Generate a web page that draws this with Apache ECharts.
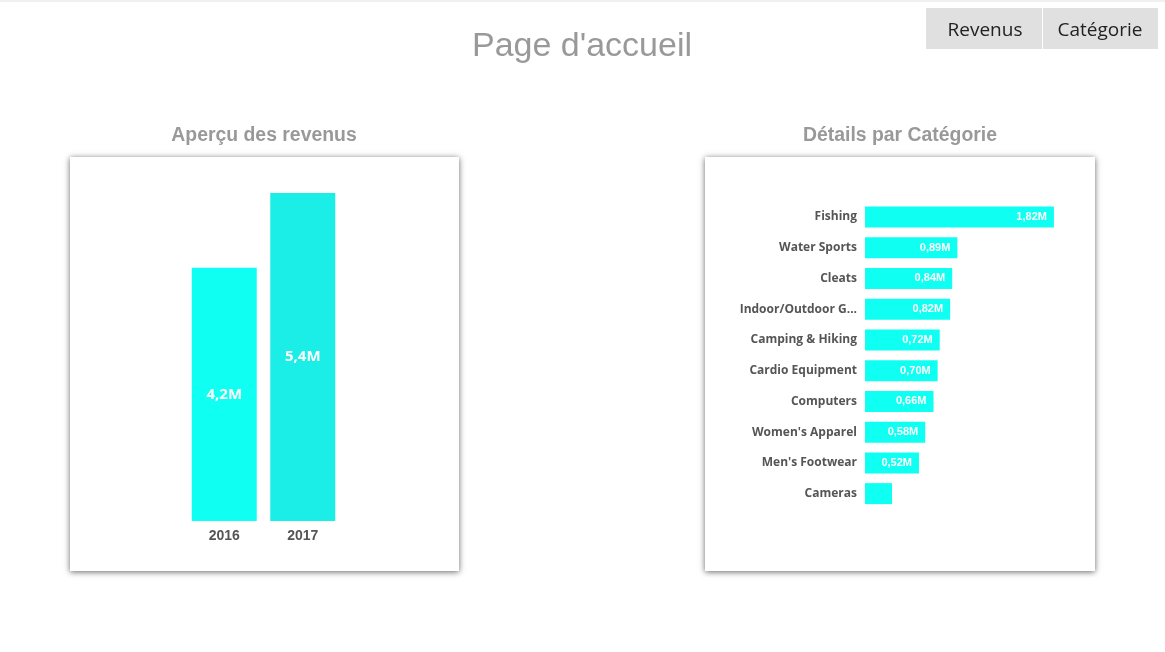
<!DOCTYPE html>
<html>
<head>
<meta charset="utf-8">
<script src="https://cdn.jsdelivr.net/npm/echarts@6/dist/echarts.min.js"></script>
<style>
html,body{margin:0;padding:0;background:#fff;}
#c{width:1165px;height:652px;}
</style>
</head>
<body>
<div id="c"></div>
<script>
// Revenue overview
var years = ['2016', '2017'];
var revenueM = [4.17, 5.4];
var yearColors = ['#0ffff2', '#1beee6'];

// Category details (values in millions)
var categories = ['Fishing', 'Water Sports', 'Cleats', 'Indoor/Outdoor Games', 'Camping & Hiking',
  'Cardio Equipment', 'Computers', "Women's Apparel", "Men's Footwear", 'Cameras'];
var categoryM = [1.82, 0.89, 0.84, 0.82, 0.72, 0.70, 0.66, 0.58, 0.52, 0.26];

var buttons = ['Revenus', 'Catégorie'];
var pageTitle = "Page d'accueil";
var leftTitle = 'Aperçu des revenus';
var rightTitle = 'Détails par Catégorie';

function fmt(v, d) { return v.toFixed(d).replace('.', ',') + 'M'; }

var chart = echarts.init(document.getElementById('c'), null, {renderer: 'canvas'});

var graphics = [
  {type: 'rect', z: -10, shape: {x: 0, y: 0, width: 1165, height: 2}, style: {fill: '#f0f0f0'}},
  // panels
  {type: 'rect', z: -5, shape: {x: 70, y: 157, width: 389, height: 414},
    style: {fill: '#fff', shadowBlur: 6, shadowColor: 'rgba(0,0,0,0.6)', shadowOffsetX: 0, shadowOffsetY: 1}},
  {type: 'rect', z: -5, shape: {x: 705, y: 157, width: 390, height: 414},
    style: {fill: '#fff', shadowBlur: 6, shadowColor: 'rgba(0,0,0,0.6)', shadowOffsetX: 0, shadowOffsetY: 1}},
  // buttons
  {type: 'rect', shape: {x: 926, y: 8, width: 116, height: 41}, style: {fill: '#e0e0e0'}},
  {type: 'rect', shape: {x: 1043, y: 8, width: 115, height: 41}, style: {fill: '#e0e0e0'}},
  {type: 'text', x: 985, y: 31, style: {text: buttons[0], fill: '#222', font: '19px "Open Sans", "Noto Sans", sans-serif', align: 'center', verticalAlign: 'middle'}},
  {type: 'text', x: 1100, y: 31, style: {text: buttons[1], fill: '#222', font: '19px "Open Sans", "Noto Sans", sans-serif', align: 'center', verticalAlign: 'middle'}},
  // titles
  {type: 'text', x: 582, y: 47, style: {text: pageTitle, fill: '#999', font: '34px "Liberation Sans", Arial, sans-serif', align: 'center', verticalAlign: 'middle'}},
  {type: 'text', x: 264, y: 136, style: {text: leftTitle, fill: '#999', font: 'bold 19.4px "Liberation Sans", Arial, sans-serif', align: 'center', verticalAlign: 'middle'}},
  {type: 'text', x: 900, y: 136, style: {text: rightTitle, fill: '#999', font: 'bold 19.4px "Liberation Sans", Arial, sans-serif', align: 'center', verticalAlign: 'middle'}}
];

chart.setOption({
  animation: false,
  backgroundColor: '#fff',
  graphic: graphics,
  grid: [
    {left: 185, top: 193, width: 157, height: 328, containLabel: false},
    {left: 865, top: 201.5, width: 207.6, height: 307.5, containLabel: false}
  ],
  xAxis: [
    {gridIndex: 0, type: 'category', data: years,
      axisLine: {show: false}, axisTick: {show: false},
      axisLabel: {margin: 8, color: '#555', fontWeight: 'bold', fontSize: 14, fontFamily: '"Liberation Sans", Arial, sans-serif'}},
    {gridIndex: 1, type: 'value', min: 0, max: 2, show: false, splitLine: {show: false}}
  ],
  yAxis: [
    {gridIndex: 0, type: 'value', min: 0, max: 5.4, show: false, splitLine: {show: false}},
    {gridIndex: 1, type: 'category', data: categories, inverse: true,
      axisLine: {show: false}, axisTick: {show: false},
      axisLabel: {margin: 8, color: '#555', fontWeight: 'bold', fontSize: 12, fontFamily: '"Open Sans", "Noto Sans", sans-serif',
        formatter: function (n) { return n.length > 18 ? n.slice(0, 16) + '...' : n; }}}
  ],
  series: [
    {type: 'bar', xAxisIndex: 0, yAxisIndex: 0, barWidth: 65,
      data: revenueM.map(function (v, i) { return {value: v, itemStyle: {color: yearColors[i]}}; }),
      label: {show: true, position: 'inside', color: '#fff', fontWeight: 'bold', fontSize: 15,
        fontFamily: '"Open Sans", "Noto Sans", sans-serif',
        formatter: function (p) { return fmt(p.value, 1); }}},
    {type: 'bar', xAxisIndex: 1, yAxisIndex: 1, barWidth: 21,
      itemStyle: {color: '#0ffff2'},
      data: categoryM,
      label: {show: true, position: 'insideRight', distance: 7, color: '#fff', fontWeight: 'bold', fontSize: 11,
        fontFamily: '"Liberation Sans", Arial, sans-serif',
        formatter: function (p) { return p.value < 0.3 ? '' : fmt(p.value, 2); }}}
  ]
});
</script>
</body>
</html>
